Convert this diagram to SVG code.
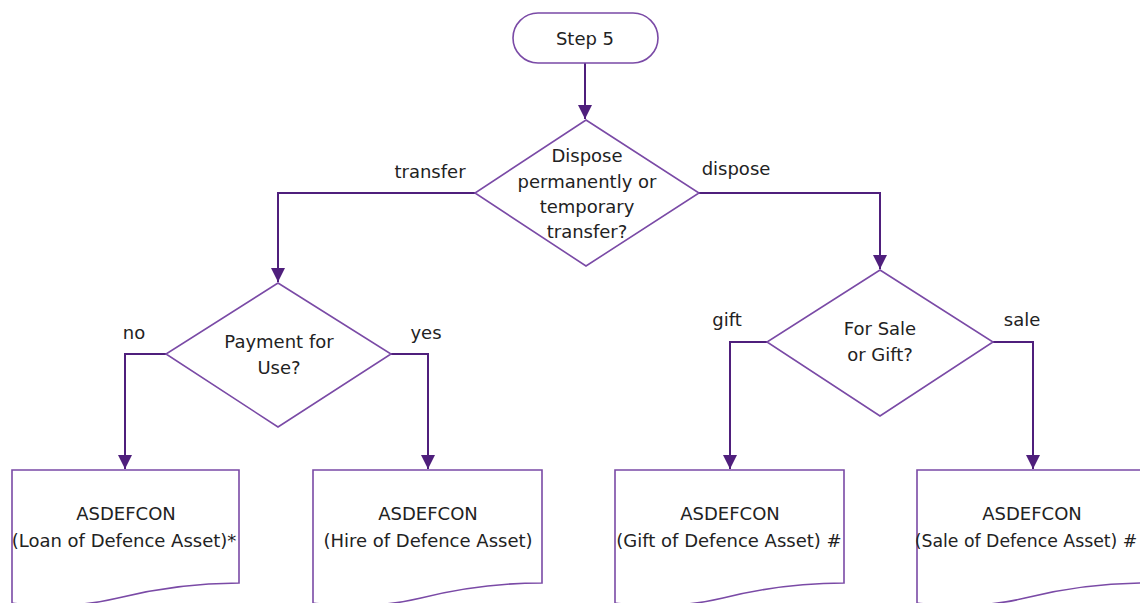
<svg xmlns="http://www.w3.org/2000/svg" width="1140" height="603" viewBox="0 0 1140 603">
<defs>
<style>
.shape{fill:#fff;stroke:#7A4AA6;stroke-width:1.6}
.conn{fill:none;stroke:#4F1F7C;stroke-width:2}
text{font-family:"DejaVu Sans","Liberation Sans",sans-serif;font-size:18px;fill:#222;text-anchor:middle}
</style>
<marker id="arr" viewBox="0 0 10 10" refX="10" refY="5" markerWidth="14" markerHeight="14" markerUnits="userSpaceOnUse" orient="auto">
<path d="M0,0 L10,5 L0,10 z" fill="#4F1F7C"/>
</marker>
</defs>
<rect width="1140" height="603" fill="#fff"/>
<g id="connectors">
<path class="conn" d="M585,63 V119" marker-end="url(#arr)"/>
<path class="conn" d="M475,193 H278 V282" marker-end="url(#arr)"/>
<path class="conn" d="M699,193 H880 V269" marker-end="url(#arr)"/>
<path class="conn" d="M166,354 H125 V469" marker-end="url(#arr)"/>
<path class="conn" d="M391,354 H428 V469" marker-end="url(#arr)"/>
<path class="conn" d="M767,342 H730 V469" marker-end="url(#arr)"/>
<path class="conn" d="M993,342 H1033 V469" marker-end="url(#arr)"/>
<text x="430" y="178">transfer</text>
<text x="736" y="175">dispose</text>
<text x="134" y="339">no</text>
<text x="426" y="339">yes</text>
<text x="727" y="326">gift</text>
<text x="1022" y="326">sale</text>
</g>
<g id="step5">
<rect class="shape" x="513" y="13" width="145" height="50" rx="25"/>
<text x="585" y="45">Step 5</text>
</g>
<g id="decision-dispose">
<path class="shape" d="M586,120 L699,193 L586,266 L475,193 Z"/>
<text x="587" y="162">Dispose</text>
<text x="587" y="188">permanently or</text>
<text x="587" y="213">temporary</text>
<text x="587" y="238">transfer?</text>
</g>
<g id="decision-payment">
<path class="shape" d="M278,283 L391,354 L278,427 L166,354 Z"/>
<text x="279" y="348">Payment for</text>
<text x="279" y="374">Use?</text>
</g>
<g id="decision-sale">
<path class="shape" d="M880,270 L993,342 L880,416 L767,342 Z"/>
<text x="880" y="335">For Sale</text>
<text x="880" y="361">or Gift?</text>
</g>
<g id="doc-loan">
<path class="shape" d="M12,470 H239 V583 C190,583 150,590 118,598 C85,606 45,608 12,603 Z"/>
<text x="126" y="520">ASDEFCON</text>
<text x="124" y="547">(Loan of Defence Asset)*</text>
</g>
<g id="doc-hire">
<path class="shape" d="M313,470 H542 V583 C493,583 453,590 421,598 C388,606 348,608 313,603 Z"/>
<text x="428" y="520">ASDEFCON</text>
<text x="428" y="547">(Hire of Defence Asset)</text>
</g>
<g id="doc-gift">
<path class="shape" d="M615,470 H844 V583 C795,583 755,590 723,598 C690,606 650,608 615,603 Z"/>
<text x="730" y="520">ASDEFCON</text>
<text x="729" y="547">(Gift of Defence Asset) #</text>
</g>
<g id="doc-sale">
<path class="shape" d="M917,470 H1146 V583 C1097,583 1057,590 1025,598 C992,606 952,608 917,603 Z"/>
<text x="1032" y="520">ASDEFCON</text>
<text x="1026" y="547" style="font-size:17.3px">(Sale of Defence Asset) #</text>
</g>
</svg>
